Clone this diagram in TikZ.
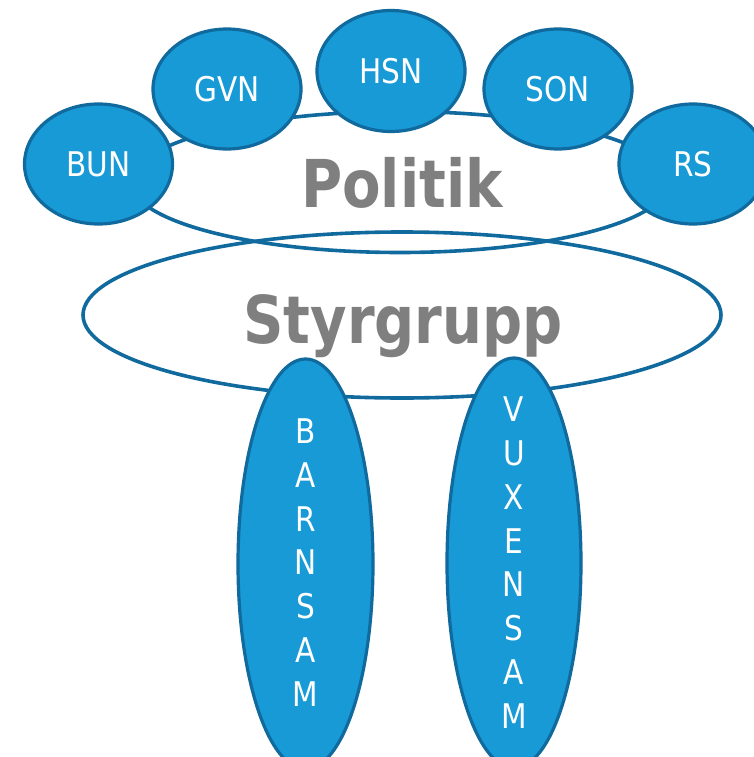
\documentclass[tikz,border=0pt]{standalone}
\usepackage{fontspec}
\usepackage{graphicx}
\setmainfont{DejaVu Sans}
\usetikzlibrary{shapes.geometric}
\definecolor{orgfill}{RGB}{24,154,214}
\definecolor{orgline}{RGB}{16,106,158}
\definecolor{titlegray}{RGB}{127,127,127}
\newcommand{\narrow}[1]{\scalebox{0.87}[1]{#1}}
\newcommand{\titlecase}[1]{\scalebox{0.85}[1]{#1}}
\tikzset{
  ring/.style={ellipse, draw=orgline, line width=3.6pt, inner sep=0pt},
  bluebody/.style={ellipse, draw=orgline, fill=orgfill, line width=3.2pt, inner sep=0pt},
  member/.style={bluebody, text=white, font=\fontsize{34}{40}\selectfont},
  lettering/.style={text=white, align=center, inner sep=0pt, font=\fontsize{34}{43.8}\selectfont},
  title/.style={text=titlegray, font=\bfseries\fontsize{66}{70}\selectfont, inner sep=0pt},
}
\begin{document}
\begin{tikzpicture}[x=1pt, y=-1pt]
\useasboundingbox (0,0) rectangle (754,757);
% outer rings
\node[ring, minimum width=538pt, minimum height=141pt] (politik) at (400,182) {};
\node[ring, minimum width=638pt, minimum height=166pt] (styr) at (402,315) {};
\node[title, anchor=base] (politiktxt) at (402,207) {\titlecase{Politik}};
\node[title, anchor=base] (styrtxt) at (403,343) {\titlecase{Styrgrupp}};
% committees
\node[member, minimum width=148pt, minimum height=120pt] (bun) at (98.5,164) {\narrow{BUN}};
\node[member, minimum width=148pt, minimum height=120pt] (gvn) at (227,89) {\narrow{GVN}};
\node[member, minimum width=148pt, minimum height=121pt] (hsn) at (391,71) {\narrow{HSN}};
\node[member, minimum width=148pt, minimum height=120pt] (son) at (558,89) {\narrow{SON}};
\node[member, minimum width=148pt, minimum height=120pt] (rs) at (693,164) {\narrow{RS}};
% working groups
\node[bluebody, minimum width=135pt, minimum height=410pt] (barnsam) at (305.5,564) {};
\node[lettering] (barnsamtxt) at (305.5,562.5)
  {\narrow{B}\\\narrow{A}\\\narrow{R}\\\narrow{N}\\\narrow{S}\\\narrow{A}\\\narrow{M}};
\node[bluebody, minimum width=134pt, minimum height=410pt] (vuxensam) at (514,563) {};
\node[lettering] (vuxensamtxt) at (514,562.5)
  {\narrow{V}\\\narrow{U}\\\narrow{X}\\\narrow{E}\\\narrow{N}\\\narrow{S}\\\narrow{A}\\\narrow{M}};
\end{tikzpicture}
\end{document}
